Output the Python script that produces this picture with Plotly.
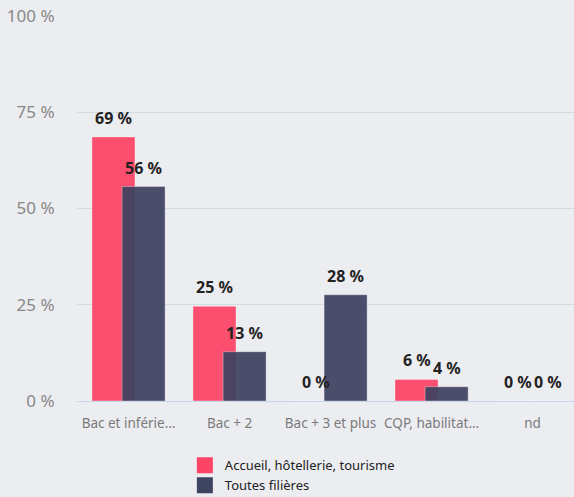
import plotly.graph_objs as go

categories = ['Bac et inférie…', 'Bac + 2', 'Bac + 3 et plus', 'CQP, habilitat…', 'nd']
series_names = ['Accueil, hôtellerie, tourisme', 'Toutes filières']
accueil = [68.6, 24.6, 0, 5.6, 0]
toutes = [55.7, 12.8, 27.6, 3.7, 0]
y_ticks = [0, 25, 50, 75, 100]

colors = ['#FE4466', '#3E4360']
shift = 0.149
width = 0.426
bg = '#ECEDF0'

pos = list(range(len(categories)))
fig = go.Figure()
annotations = []
for k, (name, vals, col) in enumerate(zip(series_names, [accueil, toutes], colors)):
    xs = [p + (shift if k else -shift) for p in pos]
    fig.add_trace(go.Bar(
        x=xs, y=vals, width=width, name=name, showlegend=False,
        marker=dict(color=col, line=dict(color='rgba(255,255,255,0.35)', width=1)),
        opacity=0.93, hoverinfo='skip'
    ))
    # legend proxy with bigger squares
    fig.add_trace(go.Scatter(
        x=[None], y=[None], mode='markers', name=name,
        marker=dict(symbol='square', size=20, color=col)
    ))
    for x, v in zip(xs, vals):
        annotations.append(dict(
            x=x, y=v, text='%d %%' % round(v), showarrow=False,
            yanchor='middle', yshift=19,
            font=dict(family='Noto Sans', size=16, color='#222222', weight='bold')
        ))

fig.update_layout(
    barmode='overlay',
    width=574, height=497,
    paper_bgcolor=bg, plot_bgcolor=bg,
    margin=dict(l=77, r=0, t=16, b=96, autoexpand=False),
    font=dict(family='Noto Sans', color='#777777'),
    xaxis=dict(
        tickvals=pos, ticktext=categories, range=[-0.51, 4.41],
        showgrid=False, zeroline=False, showline=True, linecolor='#C9D5EA', linewidth=1,
        tickfont=dict(size=13.5, color='#7A7A7A'), ticks='outside', ticklen=10,
        tickcolor='rgba(0,0,0,0)', fixedrange=True, automargin=False
    ),
    yaxis=dict(
        range=[0, 100], tickvals=y_ticks, ticktext=['%d %%' % t for t in y_ticks],
        showgrid=True, gridcolor='#D2DAE2', gridwidth=1, zeroline=False,
        tickfont=dict(size=17, color='#888888'), ticks='outside', ticklen=18,
        tickcolor='rgba(0,0,0,0)', fixedrange=True, automargin=False
    ),
    annotations=annotations,
    showlegend=True,
    legend=dict(
        x=0.217, xanchor='left', y=-0.128, yanchor='top',
        font=dict(size=13, color='#222222'), bgcolor='rgba(0,0,0,0)',
        itemclick=False, itemdoubleclick=False
    )
)

fig.write_html("out.html", config=dict(displayModeBar=False),
               post_script="document.body.style.margin='0';")
